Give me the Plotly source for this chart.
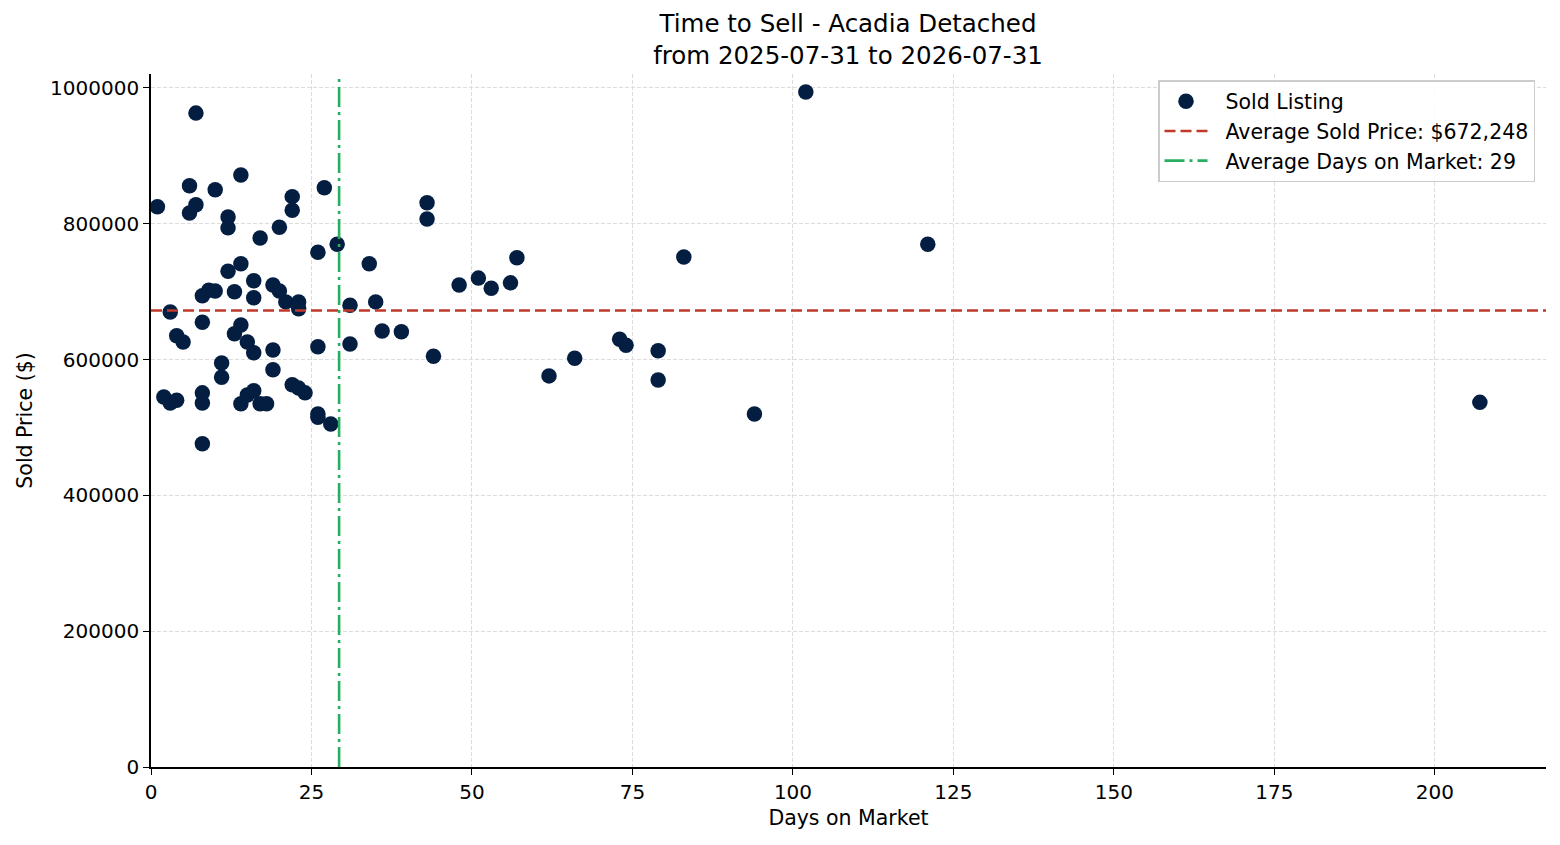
import plotly.graph_objects as go

# sold listings: days on market and sold price
days_on_market = [1, 2, 3, 3, 4, 4, 5, 6, 6, 7, 7, 8, 8, 8, 8, 8, 9, 10, 10, 11, 11,
                  12, 12, 12, 13, 13, 14, 14, 14, 14, 15, 15, 16, 16, 16, 16, 17, 17,
                  18, 19, 19, 19, 20, 20, 21, 22, 22, 22, 23, 23, 23, 24, 26, 26, 26,
                  26, 27, 28, 29, 31, 31, 34, 35, 36, 39, 43, 43, 44, 48, 51, 53, 56,
                  57, 62, 66, 73, 74, 79, 79, 83, 94, 102, 121, 207]
sold_price = [825000, 545000, 670000, 536000, 635000, 540000, 626000, 856000, 816000,
              963000, 828000, 694000, 655000, 551000, 536000, 476000, 702000, 850000,
              701000, 595000, 574000, 810000, 794000, 730000, 700000, 638000, 872000,
              741000, 651000, 535000, 626000, 548000, 716000, 691000, 610000, 554000,
              779000, 535000, 535000, 710000, 614000, 585000, 795000, 701000, 685000,
              840000, 820000, 563000, 685000, 675000, 558000, 551000, 758000, 619000,
              520000, 515000, 853000, 505000, 770000, 680000, 623000, 741000, 685000,
              642000, 641000, 831000, 807000, 605000, 710000, 720000, 705000, 713000,
              750000, 576000, 602000, 630000, 621000, 613000, 570000, 751000, 520000,
              994000, 770000, 537000]

avg_price = 672248
avg_days = 29.3

x_range = [0, 217.3]
y_range = [0, 1020600]
x_ticks = [0, 25, 50, 75, 100, 125, 150, 175, 200]
y_ticks = [0, 200000, 400000, 600000, 800000, 1000000]

pad = "\u00a0\u00a0"  # small gap between legend symbol and label

fig = go.Figure()
fig.add_trace(go.Scatter(
    x=days_on_market, y=sold_price, mode="markers", name=pad + "Sold Listing",
    marker=dict(color="#041e42", size=15.5, line=dict(width=0)),
))
fig.add_trace(go.Scatter(
    x=x_range, y=[avg_price, avg_price], mode="lines",
    name=pad + "Average Sold Price: ${:,}".format(avg_price),
    line=dict(color="#c0392b", width=2.6, dash="11px,5px"),
))
fig.add_trace(go.Scatter(
    x=[avg_days, avg_days], y=y_range, mode="lines",
    name=pad + "Average Days on Market: {}".format(round(avg_days)),
    line=dict(color="#27ae60", width=2.6, dash="20px,5px,3px,5px"),
))

axis_common = dict(
    showline=True, linecolor="black", linewidth=1.6, mirror=False,
    ticks="outside", ticklen=6, tickwidth=1.4, tickcolor="black",
    showgrid=True, gridcolor="#dcdcdc", griddash="4px,2px", gridwidth=0.9,
    zeroline=False, tickfont=dict(size=20, color="black"),
)

fig.update_layout(
    width=1544, height=829,
    paper_bgcolor="white", plot_bgcolor="white",
    font=dict(family="DejaVu Sans", color="black", size=20),
    margin=dict(l=143, r=6, t=66, b=70),
    title=dict(
        text="Time to Sell - Acadia Detached<br>from 2025-07-31 to 2026-07-31",
        x=840 / 1544, xanchor="center", y=1 - 24 / 829, yanchor="middle",
        font=dict(size=24.5),
    ),
    xaxis=dict(axis_common, range=x_range, tickvals=x_ticks,
               title=dict(text="Days on Market", font=dict(size=20.5), standoff=8)),
    yaxis=dict(axis_common, range=y_range, tickformat="d", tickvals=y_ticks,
               title=dict(text="Sold Price ($)", font=dict(size=20.5), standoff=12)),
    legend=dict(
        x=1 - 11 / 1395, y=1 - 6 / 693, xanchor="right", yanchor="top",
        bgcolor="rgba(255,255,255,0.85)", bordercolor="#cccccc", borderwidth=1.5,
        font=dict(size=20.5), itemwidth=43,
    ),
    showlegend=True,
)

fig.write_html("out.html")
